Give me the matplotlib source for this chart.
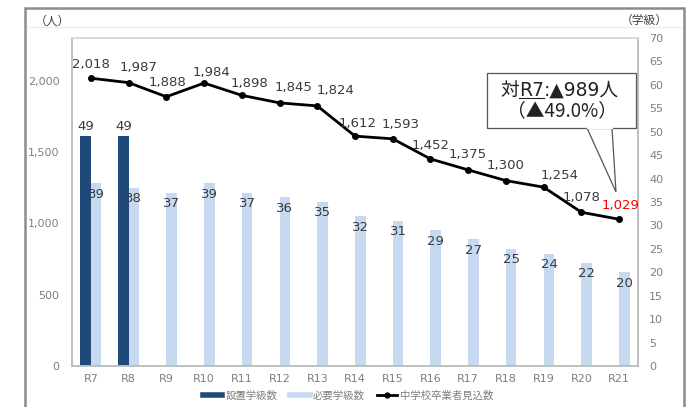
import matplotlib
matplotlib.use("Agg")
import matplotlib.pyplot as plt
import numpy as np
from matplotlib.lines import Line2D
from matplotlib.patches import Rectangle, Polygon

plt.rcParams['font.family'] = ['DejaVu Sans', 'Noto Sans CJK JP']
CJK_FIRST = ['Noto Sans CJK JP', 'DejaVu Sans']

# data
years = ['R7', 'R8', 'R9', 'R10', 'R11', 'R12', 'R13', 'R14', 'R15', 'R16', 'R17', 'R18', 'R19', 'R20', 'R21']
set_classes = [49, 49]  # 設置学級数 (R7, R8 only)
need_classes = [39, 38, 37, 39, 37, 36, 35, 32, 31, 29, 27, 25, 24, 22, 20]  # 必要学級数
graduates = [2018, 1987, 1888, 1984, 1898, 1845, 1824, 1612, 1593, 1452, 1375, 1300, 1254, 1078, 1029]

DARK = '#1f4978'
LIGHT = '#c6d9f0'
TICK_COL = '#7f7f7f'
LABEL_COL = '#3a3a3a'
AXIS_COL = '#bfbfbf'

# label nudges for the line (pixels), roughly as placed in the original
line_lbl_dx = [0, 10, 1, 7, 8, 14, 18, 3, 8, 0, -1, 0, 16, 0, 1]
line_lbl_dy = [14, 15, 14, 11, 12, 15, 15, 13, 14, 13, 15, 15, 12, 15, 14]

fig = plt.figure(figsize=(6.88, 4.07), dpi=100)
ax = fig.add_axes([72 / 688, 1 - 366 / 407, 566 / 688, 328 / 407])
ax2 = ax.twinx()

x = np.arange(len(years))
w = 0.28

# bars on the right (学級) axis
b1 = ax2.bar(x[:len(set_classes)] - w / 2, set_classes, w, color=DARK, zorder=2)
b2 = ax2.bar(x + w / 2, need_classes, w, color=LIGHT, zorder=2)
for rect, v in zip(b1, set_classes):
    ax2.annotate(str(v), (rect.get_x() + rect.get_width() / 2, v), xytext=(0, 10),
                 textcoords='offset pixels', ha='center', va='center', fontsize=9.5, color=LABEL_COL)
for rect, v in zip(b2, need_classes):
    ax2.annotate(str(v), (rect.get_x() + rect.get_width() / 2, v), xytext=(0, -11),
                 textcoords='offset pixels', ha='center', va='center', fontsize=9.5, color=LABEL_COL)

# line on the left (人) axis, drawn above the bars
ax.set_zorder(ax2.get_zorder() + 1)
ax.patch.set_visible(False)
ax.plot(x, graduates, color='black', lw=2, marker='o', ms=4, zorder=3)
for i, v in enumerate(graduates):
    col = 'red' if i == len(graduates) - 1 else LABEL_COL
    ax.annotate(f'{v:,}', (x[i], v), xytext=(line_lbl_dx[i], line_lbl_dy[i]),
                textcoords='offset pixels', ha='center', va='center', fontsize=9.5, color=col)

ax.set_xlim(-0.5, len(years) - 0.5)
ax.set_ylim(0, 2300)
ax.set_yticks([0, 500, 1000, 1500, 2000])
ax.set_yticklabels(['0', '500', '1,000', '1,500', '2,000'])
ax2.set_ylim(0, 70)
ax2.set_yticks(range(0, 71, 5))
ax.set_xticks(x)
ax.set_xticklabels(years)

for a in (ax, ax2):
    a.tick_params(length=0, labelsize=8, labelcolor=TICK_COL)
    for s in a.spines.values():
        s.set_color(AXIS_COL)
        s.set_linewidth(1.2)
ax.tick_params(axis='y', pad=9)
ax.tick_params(axis='x', pad=6)
ax2.tick_params(axis='y', pad=8)
ax.spines['top'].set_color('#d9d9d9')
ax2.spines['top'].set_color('#d9d9d9')

# unit labels
fig.text(35 / 688, 1 - 21 / 407, '（人）', fontsize=8.5, color='#404040', ha='left', va='center',
         family=CJK_FIRST)
fig.text(668 / 688, 1 - 20 / 407, '（学級）', fontsize=8.5, color='#404040', ha='right', va='center',
         family=CJK_FIRST)

# legend
handles = [Line2D([], [], color=DARK, lw=4),
           Line2D([], [], color=LIGHT, lw=4),
           Line2D([], [], color='black', lw=2, marker='o', ms=3.5)]
fig.legend(handles, ['設置学級数', '必要学級数', '中学校卒業者見込数'], loc='center',
           bbox_to_anchor=(348 / 688, 1 - 396 / 407), ncol=3, frameon=False, fontsize=7.5,
           labelcolor=TICK_COL, handlelength=1.9, handletextpad=0.3, columnspacing=1.2)

# callout box
bx0, by0, bx1, by1 = 487, 73, 636, 128
fig.patches.append(Polygon([(587 / 688, 1 - by1 / 407), (616 / 688, 1 - 192 / 407), (612 / 688, 1 - by1 / 407)],
                           closed=True, transform=fig.transFigure, facecolor='white',
                           edgecolor='#555555', lw=0.9, zorder=5))
fig.patches.append(Rectangle((bx0 / 688, 1 - by1 / 407), (bx1 - bx0) / 688, (by1 - by0) / 407,
                             transform=fig.transFigure, facecolor='white', edgecolor='#555555', lw=0.9, zorder=5))
# cover the seam between tail and box
fig.lines.append(Line2D([588 / 688, 611.5 / 688], [1 - by1 / 407] * 2, transform=fig.transFigure,
                        color='white', lw=1.5, zorder=6))

t1 = fig.text(500 / 688, 1 - 90 / 407, '対', fontsize=13.5, color='#222222', va='center', ha='left', zorder=7)
t2 = fig.text(0, 0, 'R7', fontsize=13.5, color='#222222', va='bottom', zorder=7)
t3 = fig.text(0, 0, ':▲989人', fontsize=13.5, color='#222222', va='bottom', zorder=7)
fig.text((bx0 + bx1) / 2 / 688, 1 - 111 / 407, '（▲49.0%）', fontsize=13.5, color='#222222',
         ha='center', va='center', zorder=7, family=CJK_FIRST)
fig.canvas.draw()
r = fig.canvas.get_renderer()
e1 = t1.get_window_extent(r)
t2.set_position((e1.x1 / 688, e1.y0 / 407))
fig.canvas.draw()
e2 = t2.get_window_extent(r)
t3.set_position((e2.x1 / 688, e1.y0 / 407))
fig.lines.append(Line2D([e2.x0 / 688, e2.x1 / 688], [(e2.y0 + 2) / 407] * 2, transform=fig.transFigure,
                        color='#222222', lw=0.8, zorder=7))

# faint header rule and outer frame
fig.lines.append(Line2D([27 / 688, 682 / 688], [1 - 27 / 407] * 2, transform=fig.transFigure,
                        color='#eeeeee', lw=1))
fig.patches.append(Rectangle((25 / 688, -0.05), 659 / 688, 1.05 - 8 / 407, transform=fig.transFigure,
                             facecolor='none', edgecolor='#8c8c8c', lw=1.8))

fig.savefig('out.png', dpi=100)
